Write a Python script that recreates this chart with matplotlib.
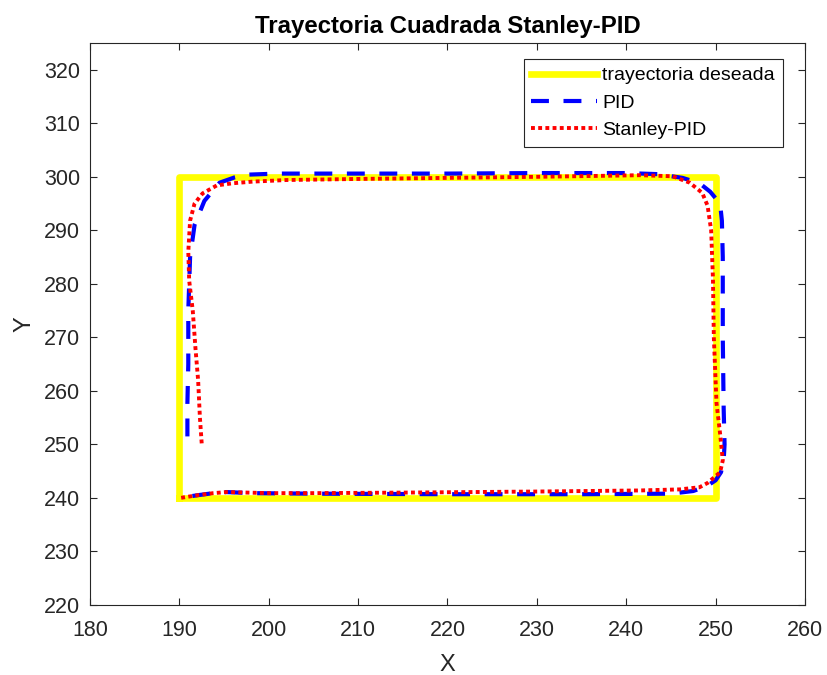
import numpy as np
import matplotlib.pyplot as plt

plt.rcParams['font.family'] = ['Liberation Sans', 'DejaVu Sans']

# trayectoria deseada (cuadrado)
ref_x = [190, 190, 250, 250, 190]
ref_y = [240, 300, 300, 240, 240]

# PID
pid_x = [190.9, 190.9, 191.0, 191.0, 191.2, 191.7, 192.8, 194.5, 196.2, 197.6,
         201.0, 210.0, 220.0, 230.0, 240.0, 243.5, 246.3, 248.2, 249.4, 250.5,
         250.7, 250.8, 250.8, 250.9, 251.0, 250.9, 250.6, 250.0, 249.0, 247.5,
         245.0, 235.0, 220.0, 205.0, 198.0, 195.3, 193.8, 192.0, 190.8, 190.1]
pid_y = [251.5, 257.7, 265.0, 275.0, 285.0, 291.0, 295.5, 298.9, 299.9, 300.4,
         300.6, 300.6, 300.6, 300.7, 300.7, 300.5, 299.8, 298.8, 297.2, 295.0,
         291.8, 285.0, 270.0, 256.7, 250.0, 247.0, 244.8, 243.3, 242.2, 241.3,
         240.8, 240.7, 240.7, 240.8, 240.9, 241.1, 240.9, 240.5, 240.2, 240.0]

# Stanley-PID
st_x = [192.5, 192.3, 192.1, 191.8, 191.5, 191.1, 191.0, 191.2, 191.7, 192.6,
        194.2, 196.0, 198.2, 202.0, 210.0, 220.0, 230.0, 238.0, 241.5, 245.2,
        247.1, 248.5, 249.1, 249.5, 249.7, 249.8, 250.1, 250.5, 250.8, 250.5,
        249.1, 248.2, 246.0, 241.5, 230.0, 215.0, 205.0, 200.0, 195.3, 193.8,
        192.0, 190.1]
st_y = [250.2, 255.0, 262.0, 268.0, 275.0, 280.6, 286.0, 291.8, 295.0, 296.9,
        298.4, 298.8, 299.1, 299.4, 299.6, 299.8, 300.0, 300.2, 300.3, 300.1,
        298.9, 297.0, 294.6, 290.0, 281.0, 270.0, 257.7, 252.0, 247.0, 244.8,
        242.8, 242.0, 241.6, 241.4, 241.2, 241.0, 240.9, 240.9, 241.1, 240.9,
        240.5, 240.0]

fig = plt.figure(figsize=(8.27, 6.75), dpi=100)
ax = fig.add_axes([0.1088, 0.1037, 0.8646, 0.8326])

ax.plot(ref_x, ref_y, color='#ffff00', linewidth=4.8, label='trayectoria deseada',
        solid_joinstyle='round')
ax.plot(pid_x, pid_y, color='#0000ff', linewidth=3, dashes=(4.3, 3.5), label='PID')
ax.plot(st_x, st_y, color='#ff0000', linewidth=2.8, dashes=(1, 0.85), label='Stanley-PID')

ax.set_xlim(180, 260)
ax.set_ylim(220, 325)
ax.set_xticks(np.arange(180, 261, 10))
ax.set_yticks(np.arange(220, 321, 10))

ax.tick_params(direction='in', top=True, right=True, labelsize=15.5,
               colors='#262626', length=5, width=0.8)
ax.tick_params(axis='x', pad=11)
ax.tick_params(axis='y', pad=7)
for s in ax.spines.values():
    s.set_color('#262626')
    s.set_linewidth(0.8)

ax.set_xlabel('X', fontsize=17, color='#262626', labelpad=9)
ax.set_ylabel('Y', fontsize=17, color='#262626', labelpad=6)
ax.set_title('Trayectoria Cuadrada Stanley-PID', fontsize=17.3, fontweight='bold', pad=7)

leg = ax.legend(loc='upper right', bbox_to_anchor=(0.969, 0.9715), borderaxespad=0,
                fontsize=14, fancybox=False, framealpha=1,
                edgecolor='#262626', handlelength=3.35, handletextpad=0.3,
                labelspacing=0.5, borderpad=0.4)
leg.get_frame().set_linewidth(0.8)

fig.savefig('out.png', dpi=100)
